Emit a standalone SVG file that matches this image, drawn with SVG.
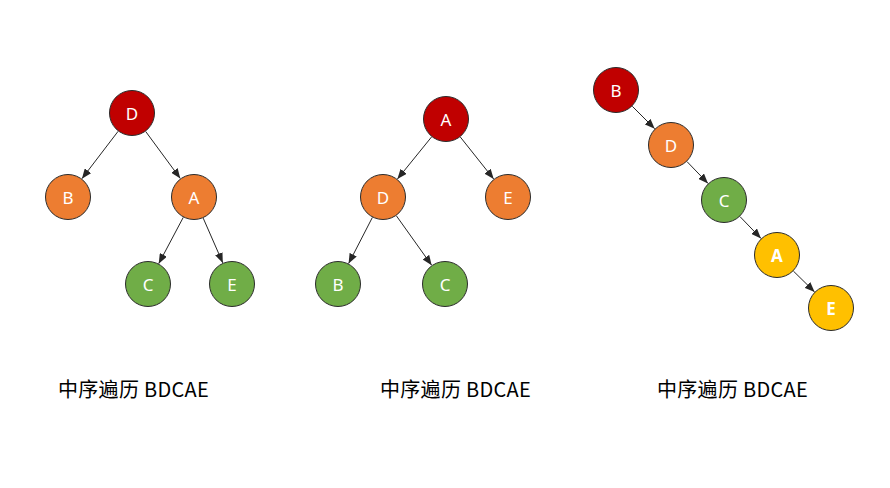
<svg xmlns="http://www.w3.org/2000/svg" width="890" height="488" viewBox="0 0 890 488">
<defs>
<style>
.n circle{stroke:#2b2b2b;stroke-width:1}
.n text{font-family:"Noto Sans","Noto Sans CJK SC",sans-serif;font-size:17px;fill:#fff;text-anchor:middle;dominant-baseline:central}
.red{fill:#C00000}.org{fill:#ED7D31}.grn{fill:#70AD47}.yel{fill:#FFC000}
.b text{font-weight:bold}
#edges line{stroke:#262626;stroke-width:1;marker-end:url(#ah)}
.lbl{font-family:"Noto Sans CJK SC","Noto Sans",sans-serif;font-size:20px;fill:#000;letter-spacing:0.3px}
</style>
<marker id="ah" markerUnits="userSpaceOnUse" markerWidth="10" markerHeight="8" refX="10" refY="4" orient="auto"><path d="M0,0 L10,4 L0,8 z" fill="#262626"/></marker>
</defs>
<rect width="890" height="488" fill="#fff"/>
<g id="edges">
<line x1="118.1" y1="131.3" x2="81.9" y2="178.7"/>
<line x1="145.7" y1="131.5" x2="180.3" y2="178.5"/>
<line x1="183.3" y1="217.3" x2="158.7" y2="263.7"/>
<line x1="203.2" y1="218.1" x2="222.8" y2="262.9"/>
<line x1="431.6" y1="136.9" x2="397.4" y2="179.1"/>
<line x1="460.3" y1="137" x2="493.7" y2="179"/>
<line x1="372.4" y1="217.4" x2="348.6" y2="263.6"/>
<line x1="396.3" y1="215.7" x2="431.7" y2="265.3"/>
<line x1="632.3" y1="106.3" x2="654.7" y2="128.7"/>
<line x1="687" y1="161.6" x2="708" y2="183.4"/>
<line x1="740" y1="216.6" x2="761" y2="238.4"/>
<line x1="793.4" y1="271.1" x2="814.6" y2="291.9"/>
</g>
<g id="t1D" class="n"><circle class="red" cx="132" cy="113" r="22.5"/><text x="132" y="113">D</text></g>
<g id="t1B" class="n"><circle class="org" cx="68" cy="197" r="22.5"/><text x="68" y="197">B</text></g>
<g id="t1A" class="n"><circle class="org" cx="194" cy="197" r="22.5"/><text x="194" y="197">A</text></g>
<g id="t1C" class="n"><circle class="grn" cx="148" cy="284" r="22.5"/><text x="148" y="284">C</text></g>
<g id="t1E" class="n"><circle class="grn" cx="232" cy="284" r="22.5"/><text x="232" y="284">E</text></g>
<g id="t2A" class="n"><circle class="red" cx="446" cy="119" r="22.5"/><text x="446" y="119">A</text></g>
<g id="t2D" class="n"><circle class="org" cx="383" cy="197" r="22.5"/><text x="383" y="197">D</text></g>
<g id="t2E" class="n"><circle class="org" cx="508" cy="197" r="22.5"/><text x="508" y="197">E</text></g>
<g id="t2B" class="n"><circle class="grn" cx="338" cy="284" r="22.5"/><text x="338" y="284">B</text></g>
<g id="t2C" class="n"><circle class="grn" cx="445" cy="284" r="22.5"/><text x="445" y="284">C</text></g>
<g id="t3B" class="n"><circle class="red" cx="616" cy="90" r="22.5"/><text x="616" y="90">B</text></g>
<g id="t3D" class="n"><circle class="org" cx="671" cy="145" r="22.5"/><text x="671" y="145">D</text></g>
<g id="t3C" class="n"><circle class="grn" cx="724" cy="200" r="22.5"/><text x="724" y="200">C</text></g>
<g id="t3A" class="n b"><circle class="yel" cx="777" cy="255" r="22.5"/><text x="777" y="255">A</text></g>
<g id="t3E" class="n b"><circle class="yel" cx="831" cy="308" r="22.5"/><text x="831" y="308">E</text></g>
<g id="labels">
<text class="lbl" x="58" y="397">中序遍历 BDCAE</text>
<text class="lbl" x="380" y="397">中序遍历 BDCAE</text>
<text class="lbl" x="657" y="397">中序遍历 BDCAE</text>
</g>
</svg>
